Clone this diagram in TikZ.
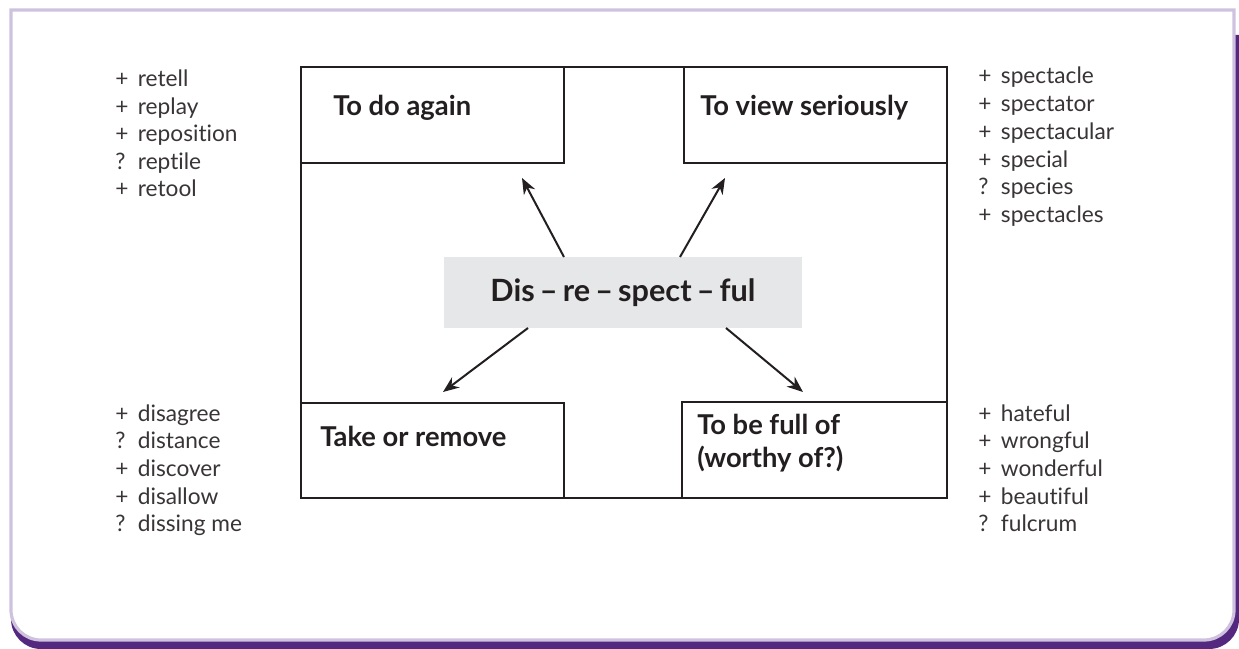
\documentclass[tikz,border=0pt]{standalone}
\usepackage{fontspec}
\setmainfont{Lato}[Ligatures={NoCommon}]
\usetikzlibrary{arrows.meta}
\definecolor{ink}{HTML}{231F20}
\definecolor{lav}{HTML}{CEC2DF}
\definecolor{purp}{HTML}{54287F}
\definecolor{boxgray}{HTML}{E6E7E8}
\newcommand\itm[2]{\makebox[17pt][l]{#1}#2}
\tikzset{
  frameline/.style={draw=ink, line width=1.3pt},
  cell/.style={frameline, anchor=north west, inner sep=0pt},
  celltext/.style={anchor=base west, inner sep=0pt, text=ink, font=\fontsize{20.5pt}{24pt}\selectfont\bfseries},
  item/.style={anchor=base west, inner sep=0pt, text=ink!90, font=\fontsize{17pt}{20pt}\selectfont},
  arr/.style={draw=ink, line width=1.5pt, -{Stealth[length=12pt,width=9.5pt]}},
}
\begin{document}
\begin{tikzpicture}[x=0.75pt,y=-0.75pt]
\useasboundingbox (0,0) rectangle (1239,649);
% shadow and frame
\fill[purp] (11,35) -- (1239,35) -- (1239,619) arc[start angle=0,end angle=-90,radius=22.5pt] -- (41,649) arc[start angle=-90,end angle=-180,radius=22.5pt] -- cycle;
\draw[lav, line width=2.4pt, fill=white] (11,10) -- (1234,10) -- (1234,610) arc[start angle=0,end angle=-90,radius=22.5pt] -- (41,640) arc[start angle=-90,end angle=-180,radius=22.5pt] -- cycle;
% main frame and cells
\node[cell, minimum width=484.5pt, minimum height=323.25pt] (big) at (300,66) {};
\node[cell, minimum width=197.25pt, minimum height=72pt] (tl) at (300,66) {};
\node[cell, minimum width=197.25pt, minimum height=72pt] (tr) at (683,66) {};
\node[cell, minimum width=197.25pt, minimum height=71.25pt] (bl) at (300,402) {};
\node[cell, minimum width=198.75pt, minimum height=72pt] (br) at (681,401) {};
\node[celltext] (tlt) at (333,116) {To do again};
\node[celltext] (trt) at (700,116) {To view seriously};
\node[celltext] (blt) at (320,446) {Take or remove};
\node[celltext] (brt1) at (697,434) {To be full of};
\node[celltext] (brt2) at (697,467) {(worthy of?)};
% centre
\node[fill=boxgray, minimum width=268.5pt, minimum height=53.25pt, inner sep=0pt, text=ink,
      font=\fontsize{23pt}{27pt}\selectfont\bfseries] (c) at (623,292.5) {Dis\,--\,re\,--\,spect\,--\,ful};
\coordinate (s1) at (564,257); \coordinate (e1) at (522,178);
\coordinate (s2) at (680,257); \coordinate (e2) at (725,178);
\coordinate (s3) at (528,328); \coordinate (e3) at (443,392);
\coordinate (s4) at (726,328); \coordinate (e4) at (803,392);
\draw[arr] (s1) -- (e1);
\draw[arr] (s2) -- (e2);
\draw[arr] (s3) -- (e3);
\draw[arr] (s4) -- (e4);
% lists
\node[item] (a1) at (115,87) {\itm{+}{retell}};
\node[item] (a2) at (115,114.5) {\itm{+}{replay}};
\node[item] (a3) at (115,142) {\itm{+}{reposition}};
\node[item] (a4) at (115,169.5) {\itm{?}{reptile}};
\node[item] (a5) at (115,197) {\itm{+}{retool}};
\node[item] (b1) at (978,84) {\itm{+}{spectacle}};
\node[item] (b2) at (978,111.7) {\itm{+}{spectator}};
\node[item] (b3) at (978,139.4) {\itm{+}{spectacular}};
\node[item] (b4) at (978,167.1) {\itm{+}{special}};
\node[item] (b5) at (978,194.8) {\itm{?}{species}};
\node[item] (b6) at (978,222.5) {\itm{+}{spectacles}};
\node[item] (d1) at (115,421) {\itm{+}{disagree}};
\node[item] (d2) at (115,448.7) {\itm{?}{distance}};
\node[item] (d3) at (115,476.4) {\itm{+}{discover}};
\node[item] (d4) at (115,504.1) {\itm{+}{disallow}};
\node[item] (d5) at (115,531.8) {\itm{?}{dissing me}};
\node[item] (f1) at (978,421) {\itm{+}{hateful}};
\node[item] (f2) at (978,448.7) {\itm{+}{wrongful}};
\node[item] (f3) at (978,476.4) {\itm{+}{wonderful}};
\node[item] (f4) at (978,504.1) {\itm{+}{beautiful}};
\node[item] (f5) at (978,531.8) {\itm{?}{fulcrum}};
\end{tikzpicture}
\end{document}
